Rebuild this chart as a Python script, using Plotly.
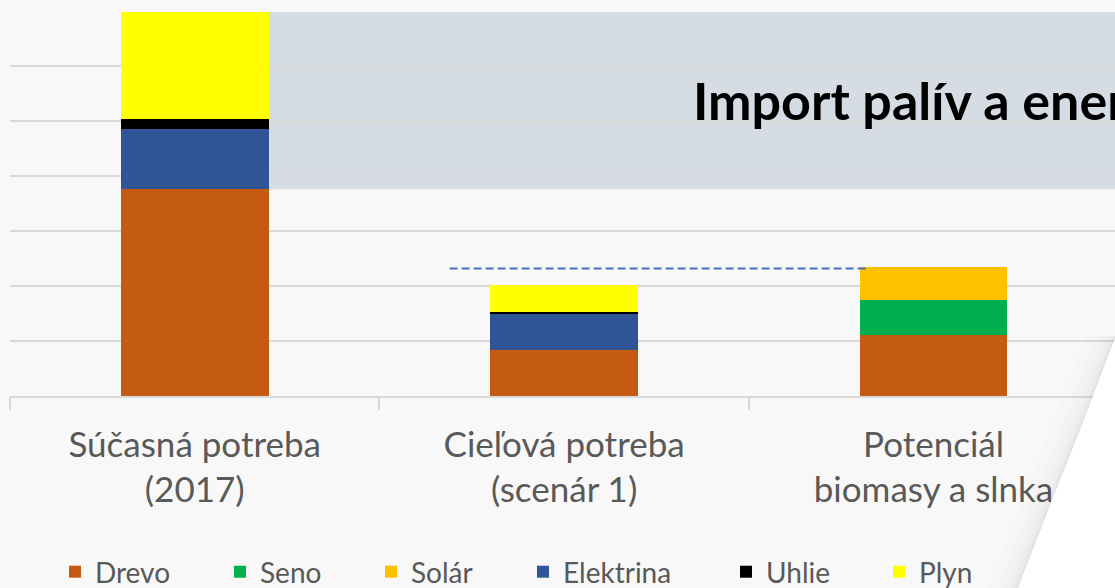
import plotly.graph_objects as go

categories = ["Súčasná potreba<br>(2017)", "Cieľová potreba<br>(scenár 1)", "Potenciál<br>biomasy a slnka"]
series_names = ["Drevo", "Seno", "Solár", "Elektrina", "Uhlie", "Plyn"]
drevo = [3.76, 0.84, 1.11]
seno = [0.0, 0.0, 0.64]
solar = [0.0, 0.0, 0.60]
elektrina = [1.10, 0.66, 0.0]
uhlie = [0.18, 0.03, 0.0]
plyn = [1.94, 0.49, 0.0]
colors = ["#C55A11", "#00B050", "#FFC000", "#2F5597", "#000000", "#FFFF00"]
import_label = "Import palív a energií"

values = [drevo, seno, solar, elektrina, uhlie, plyn]
totals = [sum(v[i] for v in values) for i in range(len(categories))]

W, H = 1115, 588
L, R, T, B = 10, 0, 11, 192
PW, PH = W - L - R, H - T - B


def px(xp):
    return (xp - L) / PW


def py(yp):
    return (H - B - yp) / PH


FONT = "Lato, 'Open Sans', sans-serif"
TXT = "#595959"
GRID = "#D9D9D9"

fig = go.Figure()
legend_keys = ["legend", "legend2", "legend3", "legend4", "legend5", "legend6"]
for name, vals, col, lk in zip(series_names, values, colors, legend_keys):
    fig.add_trace(go.Bar(
        name=name, x=categories, y=vals,
        marker=dict(color=col, line=dict(width=0)),
        legend=lk, hoverinfo="skip",
    ))

bargap = 0.6
half = (1 - bargap) / 2

shapes = []
# grey import box: from top of Drevo in first bar to its total
shapes.append(dict(type="rect", xref="x", yref="y", x0=0 + half, x1=3.0,
                   y0=drevo[0], y1=totals[0], fillcolor="#D6DCE4",
                   line=dict(width=0), layer="below"))
# dashed line at potential level
shapes.append(dict(type="line", xref="x", yref="y", x0=0.69, x1=1.82,
                   y0=totals[2] - 0.03, y1=totals[2] - 0.03,
                   line=dict(color="#4472C4", width=2, dash="8px,4px"), layer="above"))

# page curl
edge = [(1116, 336), (1084, 420), (1055, 493), (1018, 588)]


def poly(points):
    s = "M " + " L ".join(f"{px(a):.5f},{py(b):.5f}" for a, b in points) + " Z"
    return s


# shadow on the page, left of the curl edge
for off0, off1, a in [(-30, -20, 0.008), (-20, -13, 0.018), (-13, -8, 0.03),
                      (-8, -4, 0.045), (-4, -1.5, 0.065), (-1.5, 0, 0.09)]:
    band = [(x + off0, y) for x, y in edge] + [(x + off1, y) for x, y in reversed(edge)]
    shapes.append(dict(type="path", xref="paper", yref="paper", path=poly(band),
                       fillcolor=f"rgba(0,0,0,{a})", line=dict(width=0), layer="above"))

curl = edge + [(1130, 600), (1130, 336)]
shapes.append(dict(type="path", xref="paper", yref="paper", path=poly(curl),
                   fillcolor="#FFFFFF", line=dict(width=0), layer="above"))

annotations = [dict(text="<b>" + import_label + "</b>", xref="paper", yref="paper",
                    x=px(691), y=py(100), xanchor="left", yanchor="middle",
                    showarrow=False, font=dict(family=FONT, size=52, color="#000000"))]

leg_left = [69, 234, 385, 537, 740, 893]
legends = {}
for lk, xl in zip(legend_keys, leg_left):
    legends[lk] = dict(orientation="h", x=px(xl - 14), y=py(572), xanchor="left",
                       yanchor="middle", bgcolor="rgba(0,0,0,0)",
                       font=dict(family=FONT, size=28, color=TXT))

fig.update_layout(
    width=W, height=H,
    margin=dict(l=L, r=R, t=T, b=B, pad=0, autoexpand=False),
    paper_bgcolor="#F8F8F8", plot_bgcolor="#F8F8F8",
    barmode="stack", bargap=bargap,
    shapes=shapes, annotations=annotations,
    **legends,
    xaxis=dict(type="category", range=[-0.5, 2.4913], showline=True, linecolor=GRID,
               linewidth=1.5, ticks="outside", ticklen=12, tickcolor=GRID, tickwidth=1.5,
               tickson="boundaries", showgrid=False, automargin=False,
               tickfont=dict(family=FONT, size=35, color=TXT), ticklabelstandoff=17),
    yaxis=dict(range=[0, 7], dtick=1, gridcolor=GRID, gridwidth=1.5, automargin=False,
               showticklabels=False, zeroline=False, showline=False),
    showlegend=True,
)

fig.write_html("out.html", config={"displayModeBar": False},
               post_script="document.body.style.margin='0';document.body.style.overflow='hidden';")
